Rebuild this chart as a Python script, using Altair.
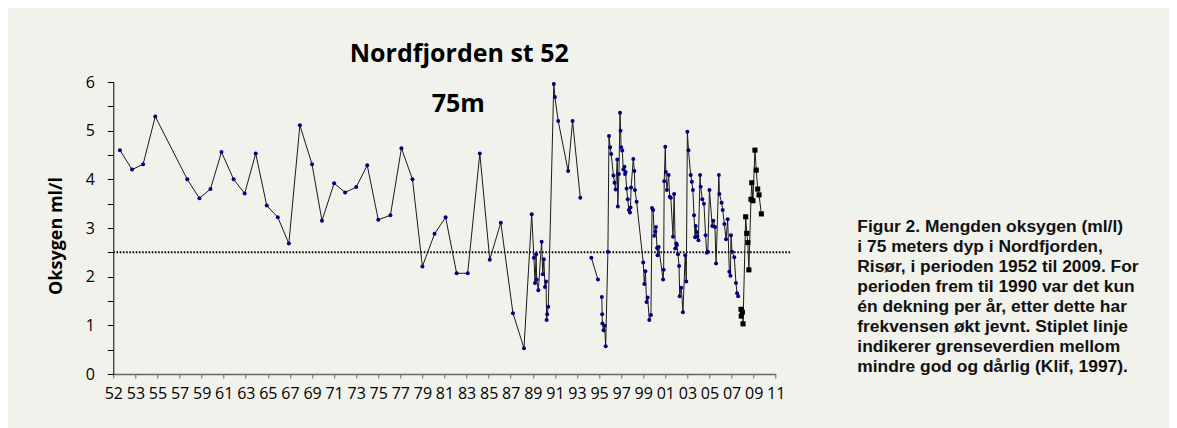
import altair as alt
import pandas as pd

# ---------------- data ----------------
blue_year = [
    1952.6, 1953.7, 1954.7, 1955.8, 1958.7, 1959.8, 1960.8, 1961.8, 1962.9, 1963.9,
    1964.9, 1965.9, 1966.9, 1967.9, 1968.9, 1970.0, 1970.9, 1972.0, 1973.0, 1974.0,
    1975.0, 1976.0, 1977.1, 1978.1, 1979.1, 1980.0, 1981.1, 1982.1, 1983.1, 1984.1,
    1985.2, 1986.1, 1987.1, 1988.2, 1989.2, 1989.9, 1990.1, 1990.2, 1990.3, 1990.35,
    1990.5, 1990.8, 1990.9, 1991.0, 1991.1, 1991.2, 1991.25, 1991.3, 1991.4, 1991.9,
    1992.0, 1992.3, 1993.2, 1993.6, 1994.3, 1995.3, 1995.9, 1996.25, 1996.28, 1996.3,
    1996.4, 1996.5, 1996.6, 1996.8, 1996.9, 1997.0, 1997.1, 1997.3, 1997.4, 1997.5,
    1997.65, 1997.7, 1997.8, 1997.9, 1997.95, 1998.0, 1998.1, 1998.2, 1998.3, 1998.35,
    1998.4, 1998.5, 1998.6, 1998.7, 1998.8, 1998.85, 1998.9, 1999.1, 1999.2, 1999.25,
    1999.4, 2000.0, 2000.1, 2000.2, 2000.3, 2000.4, 2000.55, 2000.7, 2000.8, 2000.9,
    2001.0, 2001.1, 2001.15, 2001.25, 2001.3, 2001.4, 2001.8, 2001.85, 2001.9, 2002.0,
    2002.05, 2002.15, 2002.3, 2002.4, 2002.5, 2002.7, 2002.8, 2002.9, 2003.0, 2003.05,
    2003.15, 2003.25, 2003.3, 2003.45, 2003.6, 2003.8, 2003.9, 2004.0, 2004.1, 2004.3,
    2004.4, 2004.5, 2004.6, 2004.7, 2004.75, 2004.85, 2004.9, 2005.0, 2005.15, 2005.2,
    2005.35, 2005.5, 2005.65, 2005.75, 2005.85, 2006.0, 2006.25, 2006.35, 2006.5, 2006.6,
    2006.85, 2006.9, 2007.1, 2007.2, 2007.35, 2007.5, 2007.65, 2007.8, 2007.9, 2007.95,
    2008.05, 2008.25, 2008.4, 2008.5, 2008.6,
]
blue_oxygen = [
    4.60, 4.20, 4.31, 5.29, 4.00, 3.61, 3.80, 4.56, 4.00, 3.71,
    4.53, 3.46, 3.22, 2.68, 5.11, 4.31, 3.15, 3.92, 3.73, 3.84,
    4.29, 3.17, 3.26, 4.64, 4.00, 2.21, 2.88, 3.22, 2.07, 2.07,
    4.53, 2.35, 3.11, 1.25, 0.53, 3.28, 2.39, 1.87, 2.46, 1.94,
    1.72, 2.72, 2.05, 2.36, 1.79, 1.90, 1.11, 1.23, 1.38, 5.96,
    5.69, 5.20, 4.17, 5.20, 3.62, 2.39, 1.94, 1.58, 1.23, 1.04,
    0.90, 0.99, 0.57, 2.51, 4.89, 4.66, 4.52, 4.08, 3.93, 3.79,
    4.41, 3.44, 4.11, 5.37, 5.00, 4.66, 4.59, 4.20, 4.26, 4.11,
    4.15, 3.81, 3.59, 3.37, 3.32, 3.42, 3.83, 4.42, 4.17, 3.78,
    3.54, 2.29, 1.85, 2.11, 1.48, 1.57, 1.11, 1.21, 3.41, 3.37,
    2.84, 2.93, 3.02, 2.59, 2.44, 2.61, 1.94, 2.14, 3.96, 4.67,
    4.15, 3.78, 4.09, 3.64, 3.62, 2.82, 3.70, 2.58, 2.68, 2.65,
    2.46, 2.22, 1.60, 1.77, 1.27, 2.44, 1.90, 4.98, 4.60, 4.09,
    3.95, 3.78, 3.26, 2.81, 3.04, 2.92, 2.83, 2.75, 4.09, 3.85,
    3.59, 3.50, 2.85, 2.49, 2.51, 3.78, 3.04, 3.15, 3.02, 2.27,
    4.09, 3.70, 3.52, 3.37, 3.08, 2.77, 3.18, 2.10, 2.02, 2.85,
    2.51, 2.40, 1.87, 1.66, 1.60,
]
# years where the plotted line is broken (blank cells)
segment_starts = [1995.3, 1996.25]

black_year = [2008.86, 2008.88, 2008.98, 2009.04, 2009.28, 2009.38, 2009.48, 2009.57,
              2009.76, 2009.83, 2009.94, 2010.12, 2010.24, 2010.37, 2010.49, 2010.7]
black_oxygen = [1.33, 1.19, 1.27, 1.03, 3.23, 2.89, 2.70, 2.14,
                3.59, 3.93, 3.56, 4.60, 4.19, 3.80, 3.68, 3.29]

tick_years = list(range(1952, 2013, 2))
tick_labels = ["52", "53", "55", "57", "59", "61", "63", "65", "67", "69", "71",
               "73", "75", "77", "79", "81", "83", "85", "87", "89", "91", "93",
               "95", "97", "99", "01", "03", "05", "07", "09", "11"]
y_ticks = [0, 0.5, 1, 1.5, 2, 2.5, 3, 3.5, 4, 4.5, 5, 5.5, 6]

threshold = [2.5]
threshold_span = [1952.0, 2013.36]

title_text = ["Nordfjorden st 52"]
subtitle_text = ["75m"]
caption_lines = [
    "Figur 2. Mengden oksygen (ml/l)",
    "i 75 meters dyp i Nordfjorden,",
    "Risør, i perioden 1952 til 2009. For",
    "perioden frem til 1990 var det kun",
    "én dekning per år, etter dette har",
    "frekvensen økt jevnt. Stiplet linje",
    "indikerer grenseverdien mellom",
    "mindre god og dårlig (Klif, 1997).",
]
y_title = ["Oksygen ml/l"]

assert len(blue_year) == len(blue_oxygen)
assert len(black_year) == len(black_oxygen)

# ---------------- tables ----------------
def seg_of(y):
    s = 0
    for b in segment_starts:
        if y >= b:
            s += 1
    return s

blue = pd.DataFrame({"year": blue_year, "oxygen": blue_oxygen,
                     "seg": [seg_of(y) for y in blue_year]})
black = pd.DataFrame({"year": black_year, "oxygen": black_oxygen})
rule_df = pd.DataFrame({"x": [threshold_span[0]], "x2": [threshold_span[1]], "y": threshold})

FONT = "Open Sans"
CAPTION_FONT = "Liberation Sans"

label_expr = "[" + ",".join("'%s'" % l for l in tick_labels) + "][indexof([" + \
    ",".join(str(t) for t in tick_years) + "], datum.value)]"

x_scale = alt.Scale(domain=[1952, 2012], nice=False, zero=False)
y_scale = alt.Scale(domain=[0, 6], nice=False)

x_axis = alt.Axis(values=tick_years, tickCount=len(tick_years), labelExpr=label_expr,
                  title=None, grid=False,
                  domainColor="#666666", domainWidth=1.5, tickColor="#666666",
                  tickSize=4, labelPadding=7, labelFont=FONT, labelFontSize=16,
                  labelColor="black", labelFlush=False, labelOverlap=False)
y_axis = alt.Axis(values=y_ticks, tickCount=len(y_ticks),
                  labelExpr="datum.value % 1 == 0 ? format(datum.value, 'd') : ''",
                  title=None, grid=False, domainColor="black", tickColor="black",
                  tickSize=6, labelPadding=13, labelFont=FONT, labelFontSize=16,
                  labelColor="black", labelOverlap=False)

X = alt.X("year:Q", scale=x_scale, axis=x_axis)
Y = alt.Y("oxygen:Q", scale=y_scale, axis=y_axis)

blue_line = alt.Chart(blue).mark_line(color="#1a1a1a", strokeWidth=1).encode(
    x=X, y=Y, detail="seg:N", order="year:Q")
blue_pts = alt.Chart(blue).mark_point(filled=True, shape="circle", size=16,
                                      color="#000080", opacity=1).encode(x=X, y=Y)
black_line = alt.Chart(black).mark_line(color="#1a1a1a", strokeWidth=1).encode(x=X, y=Y)
black_pts = alt.Chart(black).mark_square(size=26, color="black", opacity=1).encode(x=X, y=Y)

rule = alt.Chart(rule_df).mark_rule(color="black", strokeWidth=2,
                                    strokeDash=[1.6, 1.6]).encode(
    x=alt.X("x:Q", scale=x_scale), x2="x2:Q", y=alt.Y("y:Q", scale=y_scale))

title = alt.Chart(pd.DataFrame({"t": title_text})).mark_text(
    font=FONT, fontSize=25, fontWeight="bold", color="black", align="center",
    baseline="alphabetic").encode(x=alt.value(346), y=alt.value(-20), text="t:N")
sub = alt.Chart(pd.DataFrame({"t": subtitle_text})).mark_text(
    font=FONT, fontSize=25, fontWeight="bold", color="black", align="center",
    baseline="alphabetic").encode(x=alt.value(345), y=alt.value(29.7), text="t:N")
ytitle = alt.Chart(pd.DataFrame({"t": y_title})).mark_text(
    font=FONT, fontSize=18, fontWeight="bold", color="black", align="center",
    baseline="alphabetic", angle=270).encode(x=alt.value(-51.6), y=alt.value(154), text="t:N")
caption = alt.Chart(pd.DataFrame({"t": ["\n".join(caption_lines)]})).mark_text(
    font=CAPTION_FONT, fontSize=17.4, fontWeight="bold", color="#111111", align="left",
    baseline="alphabetic", lineBreak="\n", lineHeight=20).encode(
    x=alt.value(744), y=alt.value(149.7), text="t:N")

chart = alt.layer(rule, blue_line, black_line, blue_pts, black_pts,
                  title, sub, ytitle, caption).properties(
    width=662.4, height=292,
    background="#f2f2ed",
    autosize=alt.AutoSizeParams(type="none"),
    padding={"left": 105.3, "top": 74, "right": 393.3, "bottom": 54},
).configure_view(stroke=None)

chart.save("out.html", embed_options={"renderer": "svg", "actions": False})
